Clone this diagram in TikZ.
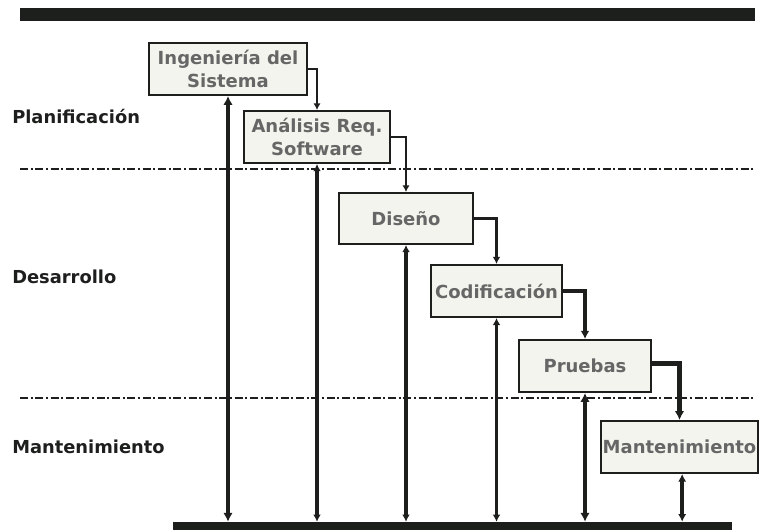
\documentclass[tikz,border=0pt]{standalone}
\usepackage{fontspec}
\setmainfont{DejaVu Sans}
\usetikzlibrary{arrows.meta}
\definecolor{ink}{HTML}{1C1F1C}
\definecolor{boxfill}{HTML}{F4F4EE}
\definecolor{boxtext}{HTML}{666666}
\tikzset{
  phase/.style={draw=ink, line width=1.5pt, fill=boxfill, inner sep=0pt,
    align=center, text=boxtext, font=\fontsize{13.5}{17.5}\selectfont\bfseries},
  stagelabel/.style={anchor=west, inner sep=0pt, text=ink,
    font=\fontsize{13.4}{16}\selectfont\bfseries},
  bar/.style={fill=ink, draw=none, inner sep=0pt},
  sep/.style={draw=ink, line width=1.4pt,
    dash pattern=on 6pt off 2pt on 1.5pt off 2pt},
  tip/.tip={Latex[length=3pt 1, width=3.5pt 1]},
  flow/.style={draw=ink, -tip},
  feedback/.style={draw=ink, tip-tip}
}
\begin{document}
\begin{tikzpicture}[x=0.75pt, y=-0.75pt]
  \useasboundingbox (0,0) rectangle (759,530);

  % heavy rules at top and bottom
  \node[bar, minimum width=735*0.75pt, minimum height=13*0.75pt] (top) at (387.5,14.5) {};
  \node[bar, minimum width=559*0.75pt, minimum height=9*0.75pt] (base) at (452.5,526.5) {};

  % stage separators
  \coordinate (s1a) at (20,169);
  \coordinate (s1b) at (755,169);
  \coordinate (s2a) at (20,398);
  \coordinate (s2b) at (755,398);
  \draw[sep] (s1a) -- (s1b);
  \draw[sep] (s2a) -- (s2b);

  % stage names
  \node[stagelabel] (lp) at (12,116) {Planificación};
  \node[stagelabel] (ld) at (12,277) {Desarrollo};
  \node[stagelabel] (lm) at (12,447) {Mantenimiento};

  % phases
  \node[phase, minimum width=158*0.75pt, minimum height=52*0.75pt] (b1) at (228,69) {Ingeniería del\\Sistema};
  \node[phase, minimum width=146*0.75pt, minimum height=52*0.75pt] (b2) at (317,137) {Análisis Req.\\Software};
  \node[phase, minimum width=134*0.75pt, minimum height=51*0.75pt] (b3) at (406,218.5) {Diseño};
  \node[phase, minimum width=131*0.75pt, minimum height=52*0.75pt] (b4) at (496.5,291) {Codificación};
  \node[phase, minimum width=132*0.75pt, minimum height=52*0.75pt] (b5) at (585,366) {Pruebas};
  \node[phase, minimum width=157*0.75pt, minimum height=52*0.75pt] (b6) at (679.5,447) {Mantenimiento};

  % cascade from one phase to the next
  \draw[flow, line width=1.9pt] (b1.east) -| (b2.north);
  \draw[flow, line width=1.9pt] (b2.east) -| (b3.north);
  \draw[flow, line width=2.4pt] (b3.east) -| (b4.north);
  \draw[flow, line width=3pt] (b4.east) -| (b5.north);
  \draw[flow, line width=3.6pt] ([yshift=2pt]b5.east) -| (b6.north);

  % links back to the base rule
  \draw[feedback, line width=3.6pt] (b1.south) -- (b1.south |- base.north);
  \draw[feedback, line width=2.4pt] (b2.south) -- (b2.south |- base.north);
  \draw[feedback, line width=2.3pt] (b3.south) -- (b3.south |- base.north);
  \draw[feedback, line width=2.3pt] (b4.south) -- (b4.south |- base.north);
  \draw[feedback, line width=3.6pt] (b5.south) -- (b5.south |- base.north);
  \draw[feedback, line width=2.8pt] ([xshift=2pt]b6.south) -- ([xshift=2pt]b6.south |- base.north);
\end{tikzpicture}
\end{document}
